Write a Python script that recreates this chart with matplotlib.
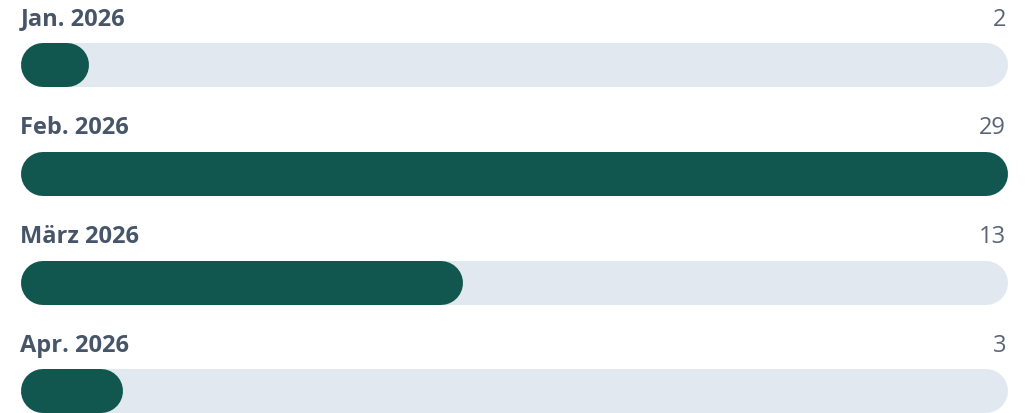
import matplotlib
matplotlib.use("Agg")
import matplotlib.pyplot as plt

months = ["Jan. 2026", "Feb. 2026", "März 2026", "Apr. 2026"]
counts = [2, 29, 13, 3]

W, H, DPI = 1033, 414, 100
left_px, right_px = 21, 1008
bar_h = 44
pitch = 109
first_center = 65.5

fill_col = "#11574f"
track_col = "#e2e8f0"
label_col = "#475569"
value_col = "#5b6577"

fig = plt.figure(figsize=(W / DPI, H / DPI), dpi=DPI)
ax = fig.add_axes([left_px / W, 0, (right_px - left_px) / W, 1])
vmax = max(counts)
ax.set_xlim(0, vmax)
ax.set_ylim(H, 0)
ax.axis("off")

px = vmax / (right_px - left_px)  # data units per pixel
r = (bar_h / 2) * px
lw = bar_h * 72 / DPI

for i, (m, c) in enumerate(zip(months, counts)):
    y = first_center + i * pitch
    ax.plot([r, vmax - r], [y, y], color=track_col, lw=lw,
            solid_capstyle="round", zorder=1)
    ax.plot([r, max(c - r, r)], [y, y], color=fill_col, lw=lw,
            solid_capstyle="round", zorder=2)
    ax.text(-0.5 * px, y - 46, m, ha="left", va="center", fontsize=17,
            fontweight="bold", color=label_col, family="Open Sans")
    ax.text(vmax - 2 * px, y - 46, str(c), ha="right", va="center",
            fontsize=17, color=value_col, family="Open Sans")

fig.savefig("out.png", dpi=DPI)
